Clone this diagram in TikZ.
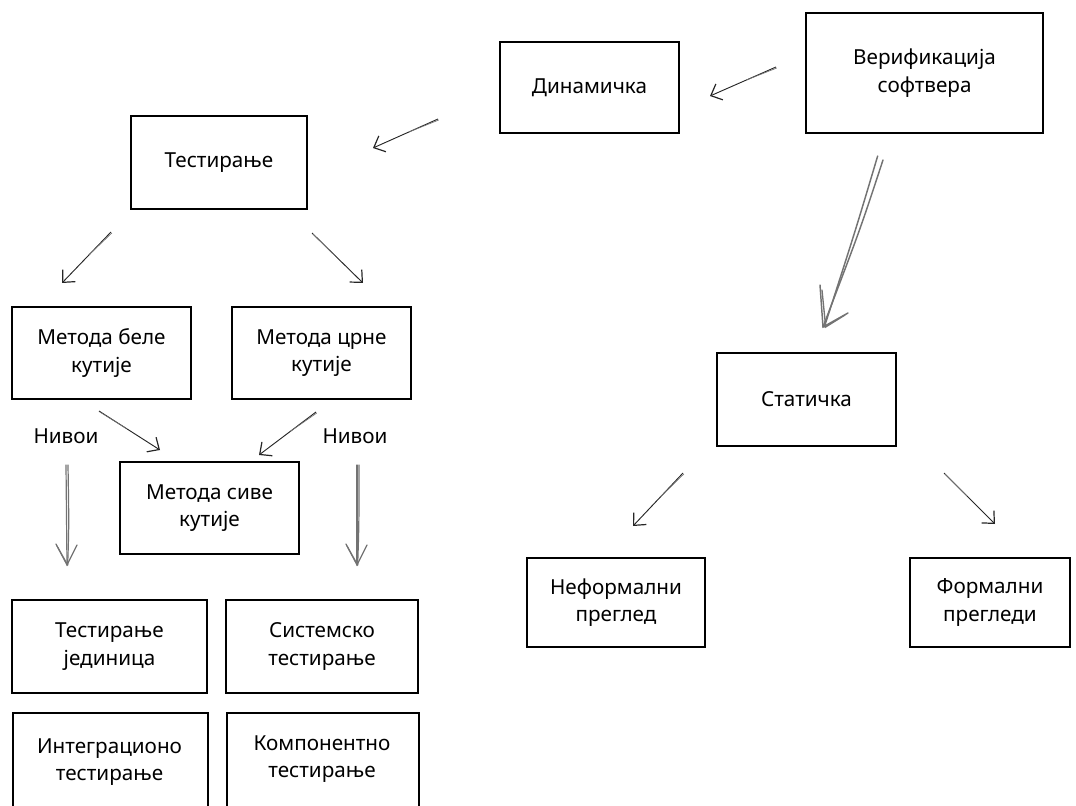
\documentclass[tikz,border=0pt]{standalone}
\usepackage{fontspec}
\setmainfont{Noto Sans}
\usetikzlibrary{arrows.meta,calc}
\newcommand\bx[6]{\node[box,minimum width={(#4-#2)*0.75pt},minimum height={(#5-#3)*0.75pt}] (#1) at ({(#2+#4)/2},{(#3+#5)/2}) {#6};}
\begin{document}
\begin{tikzpicture}[x=0.75pt,y=-0.75pt,
  box/.style={draw=black,line width=1.4pt,align=center,inner sep=0pt,font=\fontsize{15.5}{20.5}\selectfont},
  lbl/.style={font=\fontsize{15.5}{20.5}\selectfont,inner sep=0pt},
  sk/.style={line width=0.7pt,draw=black!85,-{Straight Barb[length=7pt,width=13pt,line width=0.9pt]}},
  skb/.style={line width=0.5pt,draw=black!55},
  gr/.style={line width=0.9pt,draw=black!55,line cap=round},
  ]
\useasboundingbox (0,0) rectangle (1076,806);
% boxes
\bx{ver}{806}{13}{1043}{133}{Верификација\\софтвера}
\bx{din}{500}{42}{679}{133}{Динамичка}
\bx{test}{131}{116}{307}{209}{Тестирање}
\bx{bele}{12}{307}{191}{399}{Метода беле\\кутије}
\bx{crne}{232}{307}{411}{399}{Метода црне\\кутије}
\bx{sive}{120}{462}{299}{554}{Метода сиве\\кутије}
\bx{stat}{717}{353}{896}{446}{Статичка}
\bx{nef}{527}{558}{705}{647}{Неформални\\преглед}
\bx{form}{910}{558}{1070}{647}{Формални\\прегледи}
\bx{jed}{12}{600}{207}{693}{Тестирање\\јединица}
\bx{sis}{226}{600}{418}{693}{Системско\\тестирање}
\node[box,minimum width={195*0.75pt},minimum height={110*0.75pt},anchor=north west] (int) at (12,712) {};
\node[lbl,align=center] (intt) at (109.5,762) {Интеграционо\\тестирање};
\node[box,minimum width={192*0.75pt},minimum height={110*0.75pt},anchor=north west] (komp) at (226,712) {};
\node[lbl,align=center] (kompt) at (322,759) {Компонентно\\тестирање};
% labels
\node[lbl] (niv1) at (66,436) {Нивои};
\node[lbl] (niv2) at (355,436) {Нивои};
% arrow coordinates
\coordinate (a1t) at (776,67);  \coordinate (a1h) at (710,96);
\coordinate (a2t) at (438,119); \coordinate (a2h) at (373,148);
\coordinate (a3t) at (111,232); \coordinate (a3h) at (62,283);
\coordinate (a4t) at (312,233); \coordinate (a4h) at (363,283);
\coordinate (a5t) at (99,411);  \coordinate (a5h) at (160,450);
\coordinate (a6t) at (316,412); \coordinate (a6h) at (259,455);
\coordinate (a7t) at (683,473); \coordinate (a7h) at (633,526);
\coordinate (a8t) at (944,473); \coordinate (a8h) at (995,524);
% sketchy arrows
\foreach \t/\h in {a1t/a1h,a2t/a2h,a3t/a3h,a4t/a4h,a5t/a5h,a6t/a6h,a7t/a7h,a8t/a8h}{
  \draw[sk] (\t) -- (\h);
  \draw[skb] ([shift={(0.8,1)}]\t) -- ($(\t)!0.45!(\h)$);
}
% vertical arrows
\coordinate (v1t) at (66,465); \coordinate (v1h) at (67,565);
\coordinate (v2t) at (357,465); \coordinate (v2h) at (357,565);
\foreach \t/\h in {v1t/v1h,v2t/v2h}{
  \draw[gr] (\t) -- (\h);
  \draw[gr] ([xshift=1.5]\t) .. controls ([shift={(2,-40)}]\h) .. ([xshift=0.5]\h);
  \draw[gr] ([shift={(-11,-21)}]\h) -- (\h) -- ([shift={(10,-20)}]\h);
  \draw[gr] ([shift={(-10,-19)}]\h) -- ([xshift=0.5]\h);
}
% big grey arrow
\coordinate (bt) at (883,160); \coordinate (bh) at (823,327);
\draw[gr,line width=1.1pt] (bt) .. controls (860,230) .. (bh);
\draw[gr,line width=1.1pt] ([xshift=-4,yshift=3]bt) .. controls (855,232) .. ([xshift=1]bh);
\draw[gr,line width=1.1pt] (820,285) -- (bh) -- (848,313);
\draw[gr,line width=1pt] (822,290) -- ([xshift=2]bh) -- (845,315);
\end{tikzpicture}
\end{document}
